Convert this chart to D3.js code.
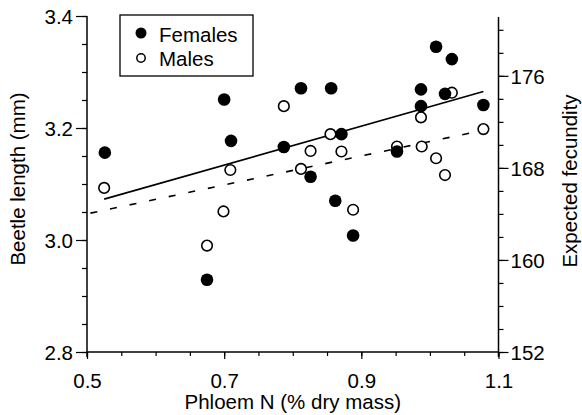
<!DOCTYPE html>
<html>
<head>
<meta charset="utf-8">
<script src="https://cdn.jsdelivr.net/npm/d3@7"></script>
<style>
  html, body { margin: 0; padding: 0; background: #fff; }
  svg { display: block; }
  text { font-family: "Liberation Sans", Arial, Helvetica, sans-serif; fill: #000; }
</style>
</head>
<body>
<svg id="chart" width="582" height="415"></svg>
<script>
// ---- data ----
const femalesN = [0.526, 0.700, 0.710, 0.675, 0.812, 0.787, 0.826, 0.856, 0.871, 0.862, 0.888, 0.952, 0.987, 0.987, 1.009, 1.032, 1.022, 1.078];
const femalesLen = [3.156, 3.251, 3.177, 2.929, 3.271, 3.166, 3.113, 3.271, 3.189, 3.070, 3.008, 3.158, 3.269, 3.239, 3.345, 3.323, 3.261, 3.241];
const malesN = [0.525, 0.675, 0.699, 0.709, 0.787, 0.812, 0.826, 0.855, 0.871, 0.888, 0.952, 0.988, 0.987, 1.009, 1.022, 1.032, 1.078];
const malesLen = [3.093, 2.990, 3.051, 3.125, 3.239, 3.127, 3.159, 3.189, 3.158, 3.054, 3.167, 3.167, 3.219, 3.146, 3.116, 3.263, 3.198];
// regression line endpoints [x, y]
const femaleFit = [[0.525, 3.073], [1.078, 3.265]];
const maleFit = [[0.505, 3.048], [1.078, 3.196]];
const xTickLabels = [0.5, 0.7, 0.9, 1.1];
const yTickLabels = [2.8, 3.0, 3.2, 3.4];
const fecTickLabels = [152, 160, 168, 176];
const legendLabels = ["Females", "Males"];

// ---- layout ----
const svg = d3.select("#chart");
const x = d3.scaleLinear().domain([0.5, 1.1]).range([87, 498.5]);
const y = d3.scaleLinear().domain([2.8, 3.4]).range([352, 16]);
const yR = d3.scaleLinear().domain([152, 181.2]).range([352, 16]);
const FS = 20.5;

// axis lines
svg.append("line").attr("x1", 87).attr("x2", 87).attr("y1", y(3.4)).attr("y2", 357)
  .attr("stroke", "#000").attr("stroke-width", 1.5);
svg.append("line").attr("x1", 498.5).attr("x2", 498.5).attr("y1", 17).attr("y2", 357)
  .attr("stroke", "#000").attr("stroke-width", 1.5);
svg.append("line").attr("x1", 87).attr("x2", 498.5).attr("y1", 352).attr("y2", 352)
  .attr("stroke", "#000").attr("stroke-width", 1.5);

function styleAxis(g) {
  g.select(".domain").remove();
  g.selectAll("line").attr("stroke", "#000").attr("stroke-width", 1.2);
  g.selectAll("text").attr("font-size", FS).attr("font-family", '"Liberation Sans", Arial, sans-serif').attr("fill", "#000");
}

// bottom axis: minor ticks, then major with labels
const xMinor = d3.range(0.5, 1.1001, 0.05);
svg.append("g").attr("transform", "translate(0,352)")
  .call(d3.axisBottom(x).tickValues(xMinor).tickSize(4).tickFormat(""))
  .call(styleAxis);
svg.append("g").attr("transform", "translate(0,352)")
  .call(d3.axisBottom(x).tickValues(xTickLabels).tickSize(7).tickPadding(0).tickFormat(d3.format(".1f")))
  .call(styleAxis)
  .call(g => g.selectAll("text").attr("y", 36).attr("dy", 0));

// left axis
const yMinor = d3.range(2.8, 3.4001, 0.05);
svg.append("g").attr("transform", "translate(87,0)")
  .call(d3.axisLeft(y).tickValues(yMinor).tickSize(5).tickFormat(""))
  .call(styleAxis);
svg.append("g").attr("transform", "translate(87,0)")
  .call(d3.axisLeft(y).tickValues(yTickLabels).tickSize(11).tickPadding(3).tickFormat(d3.format(".1f")))
  .call(styleAxis)
  .call(g => g.selectAll("text").attr("dy", "0.36em"));

// right axis
const fMinor = d3.range(152, 180.001, 2);
svg.append("g").attr("transform", "translate(498.5,0)")
  .call(d3.axisRight(yR).tickValues(fMinor).tickSize(5).tickFormat(""))
  .call(styleAxis);
svg.append("g").attr("transform", "translate(498.5,0)")
  .call(d3.axisRight(yR).tickValues(fecTickLabels).tickSize(10).tickPadding(2).tickFormat(d3.format("d")))
  .call(styleAxis)
  .call(g => g.selectAll("text").attr("dy", "0.36em"));

// axis titles
svg.append("text").attr("x", (x(0.5) + x(1.1)) / 2).attr("y", 409)
  .attr("text-anchor", "middle").attr("font-size", FS).text("Phloem N (% dry mass)");
svg.append("text").attr("transform", "translate(25,179) rotate(-90)")
  .attr("text-anchor", "middle").attr("font-size", FS).text("Beetle length (mm)");
svg.append("text").attr("transform", "translate(577,181) rotate(-90)")
  .attr("text-anchor", "middle").attr("font-size", FS).text("Expected fecundity");

// regression lines
const line = d3.line().x(d => x(d[0])).y(d => y(d[1]));
svg.append("path").datum(femaleFit).attr("d", line)
  .attr("fill", "none").attr("stroke", "#000").attr("stroke-width", 1.6);
svg.append("path").datum(maleFit).attr("d", line)
  .attr("fill", "none").attr("stroke", "#000").attr("stroke-width", 1.6)
  .attr("stroke-dasharray", "7,13");

// points
const males = malesN.map((n, i) => ({ n, len: malesLen[i] }));
const females = femalesN.map((n, i) => ({ n, len: femalesLen[i] }));
svg.append("g").selectAll("circle").data(males).join("circle")
  .attr("cx", d => x(d.n)).attr("cy", d => y(d.len)).attr("r", 5.3)
  .attr("fill", "#fff").attr("stroke", "#000").attr("stroke-width", 1.6);
svg.append("g").selectAll("circle").data(females).join("circle")
  .attr("cx", d => x(d.n)).attr("cy", d => y(d.len)).attr("r", 6.3)
  .attr("fill", "#000");

// legend
const lg = svg.append("g");
lg.append("rect").attr("x", 120).attr("y", 15).attr("width", 133).attr("height", 61)
  .attr("fill", "#fff").attr("stroke", "#000").attr("stroke-width", 1.3);
lg.append("circle").attr("cx", 141).attr("cy", 33).attr("r", 5.5).attr("fill", "#000");
lg.append("circle").attr("cx", 141).attr("cy", 58).attr("r", 4.2).attr("fill", "#fff")
  .attr("stroke", "#000").attr("stroke-width", 1.5);
lg.append("text").attr("x", 159).attr("y", 42).attr("font-size", FS).text(legendLabels[0]);
lg.append("text").attr("x", 159).attr("y", 66).attr("font-size", FS).text(legendLabels[1]);
</script>
</body>
</html>
